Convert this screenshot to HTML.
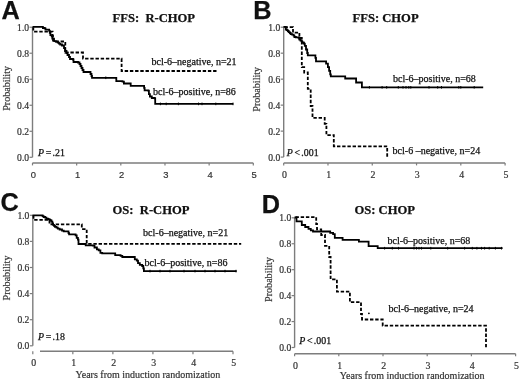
<!DOCTYPE html>
<html><head><meta charset="utf-8"><style>
html,body{margin:0;padding:0;background:#fff;width:520px;height:380px;overflow:hidden}
svg{display:block;filter:grayscale(1) blur(0.3px)}
text{fill:#111;stroke:#111;stroke-width:0.25px;white-space:pre}
text.t{fill:#333;stroke:#333;stroke-width:0.2px}
</style></head><body>
<svg width="520" height="380" viewBox="0 0 520 380">
<rect width="520" height="380" fill="#fff"/>
<text x="1.6" y="18.9" font-family="Liberation Sans" font-size="25.3" font-weight="bold" font-style="normal" text-anchor="start" >A</text>
<text x="112.5" y="21.9" font-family="Liberation Serif" font-size="12.6" font-weight="bold" font-style="normal" text-anchor="start" xml:space="preserve">FFS:  R-CHOP</text>
<line x1="32.5" y1="27.2" x2="32.5" y2="157.3" stroke="#7d7d7d" stroke-width="1.4"/>
<line x1="29.5" y1="157.30" x2="32.5" y2="157.30" stroke="#7d7d7d" stroke-width="1.2"/>
<text x="29.1" y="160.9" font-family="Liberation Serif" font-size="9.6" font-weight="normal" font-style="normal" text-anchor="end" class="t">0.0</text>
<line x1="29.5" y1="131.28" x2="32.5" y2="131.28" stroke="#7d7d7d" stroke-width="1.2"/>
<text x="29.1" y="134.88" font-family="Liberation Serif" font-size="9.6" font-weight="normal" font-style="normal" text-anchor="end" class="t">0.2</text>
<line x1="29.5" y1="105.26" x2="32.5" y2="105.26" stroke="#7d7d7d" stroke-width="1.2"/>
<text x="29.1" y="108.86" font-family="Liberation Serif" font-size="9.6" font-weight="normal" font-style="normal" text-anchor="end" class="t">0.4</text>
<line x1="29.5" y1="79.24" x2="32.5" y2="79.24" stroke="#7d7d7d" stroke-width="1.2"/>
<text x="29.1" y="82.84" font-family="Liberation Serif" font-size="9.6" font-weight="normal" font-style="normal" text-anchor="end" class="t">0.6</text>
<line x1="29.5" y1="53.22" x2="32.5" y2="53.22" stroke="#7d7d7d" stroke-width="1.2"/>
<text x="29.1" y="56.82" font-family="Liberation Serif" font-size="9.6" font-weight="normal" font-style="normal" text-anchor="end" class="t">0.8</text>
<line x1="29.5" y1="27.20" x2="32.5" y2="27.20" stroke="#7d7d7d" stroke-width="1.2"/>
<text x="29.1" y="30.8" font-family="Liberation Serif" font-size="9.6" font-weight="normal" font-style="normal" text-anchor="end" class="t">1.0</text>
<line x1="32.5" y1="162.9" x2="253.30" y2="162.9" stroke="#7d7d7d" stroke-width="1.5"/>
<line x1="32.50" y1="162.9" x2="32.50" y2="165.4" stroke="#7d7d7d" stroke-width="1.2"/>
<text x="33.4" y="178.4" font-family="Liberation Sans" font-size="9.4" font-weight="normal" font-style="normal" text-anchor="middle" class="t">0</text>
<line x1="76.66" y1="162.9" x2="76.66" y2="165.4" stroke="#7d7d7d" stroke-width="1.2"/>
<text x="77.56" y="178.4" font-family="Liberation Sans" font-size="9.4" font-weight="normal" font-style="normal" text-anchor="middle" class="t">1</text>
<line x1="120.82" y1="162.9" x2="120.82" y2="165.4" stroke="#7d7d7d" stroke-width="1.2"/>
<text x="121.72" y="178.4" font-family="Liberation Sans" font-size="9.4" font-weight="normal" font-style="normal" text-anchor="middle" class="t">2</text>
<line x1="164.98" y1="162.9" x2="164.98" y2="165.4" stroke="#7d7d7d" stroke-width="1.2"/>
<text x="165.88" y="178.4" font-family="Liberation Sans" font-size="9.4" font-weight="normal" font-style="normal" text-anchor="middle" class="t">3</text>
<line x1="209.14" y1="162.9" x2="209.14" y2="165.4" stroke="#7d7d7d" stroke-width="1.2"/>
<text x="210.04" y="178.4" font-family="Liberation Sans" font-size="9.4" font-weight="normal" font-style="normal" text-anchor="middle" class="t">4</text>
<line x1="253.30" y1="162.9" x2="253.30" y2="165.4" stroke="#7d7d7d" stroke-width="1.2"/>
<text x="254.2" y="178.4" font-family="Liberation Sans" font-size="9.4" font-weight="normal" font-style="normal" text-anchor="middle" class="t">5</text>
<text transform="translate(10.2,88.4) rotate(-90)" font-family="Liberation Serif" font-size="10.1" text-anchor="middle" class="t">Probability</text>
<path d="M32.5,26.9 H42.5 V26.9 H42.9 V28.0 H44.7 V28.4 H45.5 V29.7 H48.2 V29.7 H49.2 V30.9 H49.8 V32.8 H50.4 V35.1 H51.7 V36.3 H52.3 V38.5 H53.0 V40.7 H54.2 V41.1 H55.8 V41.7 H57.7 V42.6 H59.0 V43.6 H60.2 V44.5 H62.0 V45.5 H64.0 V48.0 H65.0 V51.0 H66.5 V53.0 H67.5 V55.0 H69.0 V57.0 H70.0 V59.0 H73.0 V59.5 H73.5 V62.0 H78.0 V62.5 H79.5 V64.0 H80.5 V66.0 H81.5 V68.0 H82.5 V70.0 H83.5 V72.0 H89.5 V72.0 H90.5 V74.0 H91.5 V76.0 H92.0 V77.8 H115.8 V77.8 H116.3 V81.1 H122.5 V81.6 H123.9 V83.5 H130.2 V83.5 H130.7 V85.9 H143.2 V85.9 H144.1 V87.9 H144.6 V90.3 H148.5 V90.8 H148.9 V94.1 H149.9 V96.5 H151.8 V98.0 H154.7 V98.4 H155.2 V103.9 H233.2 V103.9" fill="none" stroke="#000" stroke-width="1.8" stroke-linejoin="miter"/>
<line x1="105.8" y1="76.5" x2="105.8" y2="79.1" stroke="#000" stroke-width="1"/>
<line x1="160.4" y1="102.60000000000001" x2="160.4" y2="105.2" stroke="#000" stroke-width="1"/>
<line x1="166.2" y1="102.60000000000001" x2="166.2" y2="105.2" stroke="#000" stroke-width="1"/>
<line x1="178.4" y1="102.60000000000001" x2="178.4" y2="105.2" stroke="#000" stroke-width="1"/>
<line x1="198.5" y1="102.60000000000001" x2="198.5" y2="105.2" stroke="#000" stroke-width="1"/>
<line x1="202" y1="102.60000000000001" x2="202" y2="105.2" stroke="#000" stroke-width="1"/>
<line x1="215.8" y1="102.60000000000001" x2="215.8" y2="105.2" stroke="#000" stroke-width="1"/>
<line x1="233" y1="102.60000000000001" x2="233" y2="105.2" stroke="#000" stroke-width="1"/>
<path d="M33.3,27.2 V31.6 H52.6 V36.0 H54.0 V41.5 H65.3 V52.5 H83.0 V58.6 H121.6 V71.0 H218.3" fill="none" stroke="#000" stroke-width="1.8" stroke-dasharray="3.4 1.8"/>
<text x="151.5" y="64.6" font-family="Liberation Serif" font-size="10" font-weight="normal" font-style="normal" text-anchor="start" >bcl-6–negative, n=21</text>
<text x="153" y="94.8" font-family="Liberation Serif" font-size="10" font-weight="normal" font-style="normal" text-anchor="start" >bcl-6–positive, n=86</text>
<text y="155.7" font-family="Liberation Serif" font-size="9.9"><tspan x="38" font-style="italic">P</tspan><tspan x="45.8">=</tspan><tspan x="52.5">.21</tspan></text>
<text x="253.2" y="19.2" font-family="Liberation Sans" font-size="25.3" font-weight="bold" font-style="normal" text-anchor="start" >B</text>
<text x="352.5" y="21.9" font-family="Liberation Serif" font-size="12.6" font-weight="bold" font-style="normal" text-anchor="start" xml:space="preserve">FFS: CHOP</text>
<line x1="283.7" y1="27.2" x2="283.7" y2="157.1" stroke="#7d7d7d" stroke-width="1.4"/>
<line x1="280.7" y1="157.10" x2="283.7" y2="157.10" stroke="#7d7d7d" stroke-width="1.2"/>
<text x="280.3" y="160.7" font-family="Liberation Serif" font-size="9.6" font-weight="normal" font-style="normal" text-anchor="end" class="t">0.0</text>
<line x1="280.7" y1="131.12" x2="283.7" y2="131.12" stroke="#7d7d7d" stroke-width="1.2"/>
<text x="280.3" y="134.72" font-family="Liberation Serif" font-size="9.6" font-weight="normal" font-style="normal" text-anchor="end" class="t">0.2</text>
<line x1="280.7" y1="105.14" x2="283.7" y2="105.14" stroke="#7d7d7d" stroke-width="1.2"/>
<text x="280.3" y="108.74" font-family="Liberation Serif" font-size="9.6" font-weight="normal" font-style="normal" text-anchor="end" class="t">0.4</text>
<line x1="280.7" y1="79.16" x2="283.7" y2="79.16" stroke="#7d7d7d" stroke-width="1.2"/>
<text x="280.3" y="82.76" font-family="Liberation Serif" font-size="9.6" font-weight="normal" font-style="normal" text-anchor="end" class="t">0.6</text>
<line x1="280.7" y1="53.18" x2="283.7" y2="53.18" stroke="#7d7d7d" stroke-width="1.2"/>
<text x="280.3" y="56.78" font-family="Liberation Serif" font-size="9.6" font-weight="normal" font-style="normal" text-anchor="end" class="t">0.8</text>
<line x1="280.7" y1="27.20" x2="283.7" y2="27.20" stroke="#7d7d7d" stroke-width="1.2"/>
<text x="280.3" y="30.8" font-family="Liberation Serif" font-size="9.6" font-weight="normal" font-style="normal" text-anchor="end" class="t">1.0</text>
<line x1="283.7" y1="162.9" x2="505.10" y2="162.9" stroke="#7d7d7d" stroke-width="1.5"/>
<line x1="283.70" y1="162.9" x2="283.70" y2="165.4" stroke="#7d7d7d" stroke-width="1.2"/>
<text x="284.5" y="177.7" font-family="Liberation Serif" font-size="9.9" font-weight="normal" font-style="normal" text-anchor="middle" class="t">0</text>
<line x1="327.98" y1="162.9" x2="327.98" y2="165.4" stroke="#7d7d7d" stroke-width="1.2"/>
<text x="328.78" y="177.7" font-family="Liberation Serif" font-size="9.9" font-weight="normal" font-style="normal" text-anchor="middle" class="t">1</text>
<line x1="372.26" y1="162.9" x2="372.26" y2="165.4" stroke="#7d7d7d" stroke-width="1.2"/>
<text x="373.06" y="177.7" font-family="Liberation Serif" font-size="9.9" font-weight="normal" font-style="normal" text-anchor="middle" class="t">2</text>
<line x1="416.54" y1="162.9" x2="416.54" y2="165.4" stroke="#7d7d7d" stroke-width="1.2"/>
<text x="417.34" y="177.7" font-family="Liberation Serif" font-size="9.9" font-weight="normal" font-style="normal" text-anchor="middle" class="t">3</text>
<line x1="460.82" y1="162.9" x2="460.82" y2="165.4" stroke="#7d7d7d" stroke-width="1.2"/>
<text x="461.62" y="177.7" font-family="Liberation Serif" font-size="9.9" font-weight="normal" font-style="normal" text-anchor="middle" class="t">4</text>
<line x1="505.10" y1="162.9" x2="505.10" y2="165.4" stroke="#7d7d7d" stroke-width="1.2"/>
<text x="505.9" y="177.7" font-family="Liberation Serif" font-size="9.9" font-weight="normal" font-style="normal" text-anchor="middle" class="t">5</text>
<text transform="translate(260,89.3) rotate(-90)" font-family="Liberation Serif" font-size="10.1" text-anchor="middle" class="t">Probability</text>
<path d="M283.4,26.9 H285.8 V26.9 H285.8 V29.5 H286.9 V30.1 H287.8 V31.0 H288.7 V32.1 H289.8 V33.0 H290.7 V34.1 H292.1 V34.7 H293.6 V35.6 H294.4 V37.0 H295.9 V37.3 H298.2 V37.6 H299.1 V38.5 H299.4 V39.6 H300.5 V40.5 H301.7 V41.4 H302.3 V42.5 H303.7 V43.1 H304.3 V44.0 H304.8 V45.9 H306.0 V49.5 H307.2 V53.0 H307.8 V55.4 H314.3 V55.4 H315.4 V57.8 H316.0 V61.3 H325.5 V61.3 H326.1 V63.7 H327.9 V67.2 H329.1 V70.8 H330.2 V74.3 H330.8 V76.3 H344.6 V76.3 H345.2 V78.5 H355.6 V78.5 H356.1 V82.5 H361.3 V82.5 H361.9 V87.3 H483.2 V87.3" fill="none" stroke="#000" stroke-width="1.8" stroke-linejoin="miter"/>
<line x1="369.4" y1="86.0" x2="369.4" y2="88.6" stroke="#000" stroke-width="1"/>
<line x1="382.1" y1="86.0" x2="382.1" y2="88.6" stroke="#000" stroke-width="1"/>
<line x1="386.7" y1="86.0" x2="386.7" y2="88.6" stroke="#000" stroke-width="1"/>
<line x1="398.3" y1="86.0" x2="398.3" y2="88.6" stroke="#000" stroke-width="1"/>
<line x1="403" y1="86.0" x2="403" y2="88.6" stroke="#000" stroke-width="1"/>
<line x1="406" y1="86.0" x2="406" y2="88.6" stroke="#000" stroke-width="1"/>
<line x1="408.8" y1="86.0" x2="408.8" y2="88.6" stroke="#000" stroke-width="1"/>
<line x1="410.8" y1="86.0" x2="410.8" y2="88.6" stroke="#000" stroke-width="1"/>
<line x1="429" y1="86.0" x2="429" y2="88.6" stroke="#000" stroke-width="1"/>
<line x1="437.7" y1="86.0" x2="437.7" y2="88.6" stroke="#000" stroke-width="1"/>
<line x1="441.5" y1="86.0" x2="441.5" y2="88.6" stroke="#000" stroke-width="1"/>
<line x1="458.8" y1="86.0" x2="458.8" y2="88.6" stroke="#000" stroke-width="1"/>
<line x1="460.8" y1="86.0" x2="460.8" y2="88.6" stroke="#000" stroke-width="1"/>
<line x1="474.2" y1="86.0" x2="474.2" y2="88.6" stroke="#000" stroke-width="1"/>
<path d="M284.5,27.2 H293.0 V32.6 H299.4 V38.0 H301.8 V67.2 H304.2 V72.5 H307.8 V88.9 H310.7 V106.0 H312.5 V117.9 H324.7 V123.8 H326.4 V135.1 H333.8 V146.3 H387.2 V156.8" fill="none" stroke="#000" stroke-width="1.8" stroke-dasharray="3.4 1.8"/>
<text x="393" y="82.1" font-family="Liberation Serif" font-size="10" font-weight="normal" font-style="normal" text-anchor="start" >bcl-6–positive, n=68</text>
<text x="392.6" y="154.2" font-family="Liberation Serif" font-size="10" font-weight="normal" font-style="normal" text-anchor="start" xml:space="preserve">bcl-6 –negative, n=24</text>
<text y="155.7" font-family="Liberation Serif" font-size="9.9"><tspan x="286.8" font-style="italic">P</tspan><tspan x="294.6">&lt;</tspan><tspan x="301.3">.001</tspan></text>
<text x="0.5" y="211.0" font-family="Liberation Sans" font-size="25.3" font-weight="bold" font-style="normal" text-anchor="start" >C</text>
<text x="112.5" y="214.2" font-family="Liberation Serif" font-size="12.6" font-weight="bold" font-style="normal" text-anchor="start" xml:space="preserve">OS:  R-CHOP</text>
<line x1="32.8" y1="215.3" x2="32.8" y2="345.8" stroke="#7d7d7d" stroke-width="1.4"/>
<line x1="29.799999999999997" y1="345.80" x2="32.8" y2="345.80" stroke="#7d7d7d" stroke-width="1.2"/>
<text x="29.4" y="349.4" font-family="Liberation Serif" font-size="9.6" font-weight="normal" font-style="normal" text-anchor="end" class="t">0.0</text>
<line x1="29.799999999999997" y1="319.70" x2="32.8" y2="319.70" stroke="#7d7d7d" stroke-width="1.2"/>
<text x="29.4" y="323.3" font-family="Liberation Serif" font-size="9.6" font-weight="normal" font-style="normal" text-anchor="end" class="t">0.2</text>
<line x1="29.799999999999997" y1="293.60" x2="32.8" y2="293.60" stroke="#7d7d7d" stroke-width="1.2"/>
<text x="29.4" y="297.2" font-family="Liberation Serif" font-size="9.6" font-weight="normal" font-style="normal" text-anchor="end" class="t">0.4</text>
<line x1="29.799999999999997" y1="267.50" x2="32.8" y2="267.50" stroke="#7d7d7d" stroke-width="1.2"/>
<text x="29.4" y="271.1" font-family="Liberation Serif" font-size="9.6" font-weight="normal" font-style="normal" text-anchor="end" class="t">0.6</text>
<line x1="29.799999999999997" y1="241.40" x2="32.8" y2="241.40" stroke="#7d7d7d" stroke-width="1.2"/>
<text x="29.4" y="245.0" font-family="Liberation Serif" font-size="9.6" font-weight="normal" font-style="normal" text-anchor="end" class="t">0.8</text>
<line x1="29.799999999999997" y1="215.30" x2="32.8" y2="215.30" stroke="#7d7d7d" stroke-width="1.2"/>
<text x="29.4" y="218.9" font-family="Liberation Serif" font-size="9.6" font-weight="normal" font-style="normal" text-anchor="end" class="t">1.0</text>
<line x1="40" y1="351.3" x2="233.00" y2="351.3" stroke="#7d7d7d" stroke-width="1.5"/>
<line x1="32.80" y1="351.3" x2="32.80" y2="354.3" stroke="#7d7d7d" stroke-width="1.2"/>
<text x="33.6" y="366.2" font-family="Liberation Serif" font-size="9.9" font-weight="normal" font-style="normal" text-anchor="middle" class="t">0</text>
<line x1="72.84" y1="351.3" x2="72.84" y2="354.3" stroke="#7d7d7d" stroke-width="1.2"/>
<text x="73.64" y="366.2" font-family="Liberation Serif" font-size="9.9" font-weight="normal" font-style="normal" text-anchor="middle" class="t">1</text>
<line x1="112.88" y1="351.3" x2="112.88" y2="354.3" stroke="#7d7d7d" stroke-width="1.2"/>
<text x="113.68" y="366.2" font-family="Liberation Serif" font-size="9.9" font-weight="normal" font-style="normal" text-anchor="middle" class="t">2</text>
<line x1="152.92" y1="351.3" x2="152.92" y2="354.3" stroke="#7d7d7d" stroke-width="1.2"/>
<text x="153.72" y="366.2" font-family="Liberation Serif" font-size="9.9" font-weight="normal" font-style="normal" text-anchor="middle" class="t">3</text>
<line x1="192.96" y1="351.3" x2="192.96" y2="354.3" stroke="#7d7d7d" stroke-width="1.2"/>
<text x="193.76" y="366.2" font-family="Liberation Serif" font-size="9.9" font-weight="normal" font-style="normal" text-anchor="middle" class="t">4</text>
<line x1="233.00" y1="351.3" x2="233.00" y2="354.3" stroke="#7d7d7d" stroke-width="1.2"/>
<text x="233.8" y="366.2" font-family="Liberation Serif" font-size="9.9" font-weight="normal" font-style="normal" text-anchor="middle" class="t">5</text>
<text transform="translate(10.0,278) rotate(-90)" font-family="Liberation Serif" font-size="10.1" text-anchor="middle" class="t">Probability</text>
<path d="M32.5,215.3 H41.4 V215.3 H42.6 V216.1 H43.6 V217.0 H45.2 V217.6 H46.4 V218.6 H48.0 V219.2 H49.6 V219.8 H50.5 V220.5 H51.5 V221.7 H52.4 V223.3 H53.1 V224.9 H54.0 V225.8 H55.0 V226.8 H56.5 V227.7 H57.8 V228.7 H59.6 V229.5 H62.0 V230.7 H63.7 V231.3 H67.9 V231.3 H68.5 V233.1 H69.1 V234.3 H75.0 V234.3 H75.6 V235.4 H76.7 V237.8 H77.9 V239.6 H78.5 V244.0 H84.0 V244.0 H85.7 V245.3 H92.8 V245.7 H94.5 V247.5 H96.9 V249.3 H98.7 V250.4 H100.4 V252.8 H102.2 V253.4 H114.1 V253.4 H115.2 V255.2 H120.6 V255.8 H122.3 V257.0 H134.2 V257.0 H134.8 V259.3 H136.8 V260.7 H138.0 V263.1 H139.8 V264.9 H142.2 V266.0 H143.3 V268.4 H143.9 V271.1 H236.6 V271.1" fill="none" stroke="#000" stroke-width="1.8" stroke-linejoin="miter"/>
<line x1="150" y1="269.8" x2="150" y2="272.40000000000003" stroke="#000" stroke-width="1"/>
<line x1="160" y1="269.8" x2="160" y2="272.40000000000003" stroke="#000" stroke-width="1"/>
<line x1="170" y1="269.8" x2="170" y2="272.40000000000003" stroke="#000" stroke-width="1"/>
<line x1="184" y1="269.8" x2="184" y2="272.40000000000003" stroke="#000" stroke-width="1"/>
<line x1="195" y1="269.8" x2="195" y2="272.40000000000003" stroke="#000" stroke-width="1"/>
<line x1="205" y1="269.8" x2="205" y2="272.40000000000003" stroke="#000" stroke-width="1"/>
<line x1="215" y1="269.8" x2="215" y2="272.40000000000003" stroke="#000" stroke-width="1"/>
<line x1="225" y1="269.8" x2="225" y2="272.40000000000003" stroke="#000" stroke-width="1"/>
<line x1="236" y1="269.8" x2="236" y2="272.40000000000003" stroke="#000" stroke-width="1"/>
<path d="M33.5,215.3 V219.8 H49.5 V224.3 H81.8 V229.1 H86.7 V243.8 H241.2" fill="none" stroke="#000" stroke-width="1.8" stroke-dasharray="3.4 1.8"/>
<text x="143.1" y="236.1" font-family="Liberation Serif" font-size="10" font-weight="normal" font-style="normal" text-anchor="start" >bcl-6–negative, n=21</text>
<text x="144.6" y="266.1" font-family="Liberation Serif" font-size="10" font-weight="normal" font-style="normal" text-anchor="start" >bcl-6–positive, n=86</text>
<text y="339.8" font-family="Liberation Serif" font-size="9.9"><tspan x="38" font-style="italic">P</tspan><tspan x="45.8">=</tspan><tspan x="52.5">.18</tspan></text>
<text x="75.5" y="377.5" font-family="Liberation Serif" font-size="10" font-weight="normal" font-style="normal" text-anchor="start" class="t">Years from induction randomization</text>
<text x="261.8" y="212.9" font-family="Liberation Sans" font-size="25.3" font-weight="bold" font-style="normal" text-anchor="start" >D</text>
<text x="354.4" y="214.2" font-family="Liberation Serif" font-size="12.6" font-weight="bold" font-style="normal" text-anchor="start" xml:space="preserve">OS: CHOP</text>
<line x1="294.6" y1="217.8" x2="294.6" y2="347.5" stroke="#7d7d7d" stroke-width="1.4"/>
<line x1="291.6" y1="347.50" x2="294.6" y2="347.50" stroke="#7d7d7d" stroke-width="1.2"/>
<text x="291.20000000000005" y="351.1" font-family="Liberation Serif" font-size="9.6" font-weight="normal" font-style="normal" text-anchor="end" class="t">0.0</text>
<line x1="291.6" y1="321.56" x2="294.6" y2="321.56" stroke="#7d7d7d" stroke-width="1.2"/>
<text x="291.20000000000005" y="325.16" font-family="Liberation Serif" font-size="9.6" font-weight="normal" font-style="normal" text-anchor="end" class="t">0.2</text>
<line x1="291.6" y1="295.62" x2="294.6" y2="295.62" stroke="#7d7d7d" stroke-width="1.2"/>
<text x="291.20000000000005" y="299.22" font-family="Liberation Serif" font-size="9.6" font-weight="normal" font-style="normal" text-anchor="end" class="t">0.4</text>
<line x1="291.6" y1="269.68" x2="294.6" y2="269.68" stroke="#7d7d7d" stroke-width="1.2"/>
<text x="291.20000000000005" y="273.28" font-family="Liberation Serif" font-size="9.6" font-weight="normal" font-style="normal" text-anchor="end" class="t">0.6</text>
<line x1="291.6" y1="243.74" x2="294.6" y2="243.74" stroke="#7d7d7d" stroke-width="1.2"/>
<text x="291.20000000000005" y="247.34" font-family="Liberation Serif" font-size="9.6" font-weight="normal" font-style="normal" text-anchor="end" class="t">0.8</text>
<line x1="291.6" y1="217.80" x2="294.6" y2="217.80" stroke="#7d7d7d" stroke-width="1.2"/>
<text x="291.20000000000005" y="221.4" font-family="Liberation Serif" font-size="9.6" font-weight="normal" font-style="normal" text-anchor="end" class="t">1.0</text>
<line x1="294.6" y1="353.7" x2="515.60" y2="353.7" stroke="#7d7d7d" stroke-width="1.5"/>
<line x1="294.60" y1="353.7" x2="294.60" y2="356.2" stroke="#7d7d7d" stroke-width="1.2"/>
<text x="295.4" y="368.6" font-family="Liberation Serif" font-size="9.9" font-weight="normal" font-style="normal" text-anchor="middle" class="t">0</text>
<line x1="338.80" y1="353.7" x2="338.80" y2="356.2" stroke="#7d7d7d" stroke-width="1.2"/>
<text x="339.6" y="368.6" font-family="Liberation Serif" font-size="9.9" font-weight="normal" font-style="normal" text-anchor="middle" class="t">1</text>
<line x1="383.00" y1="353.7" x2="383.00" y2="356.2" stroke="#7d7d7d" stroke-width="1.2"/>
<text x="383.8" y="368.6" font-family="Liberation Serif" font-size="9.9" font-weight="normal" font-style="normal" text-anchor="middle" class="t">2</text>
<line x1="427.20" y1="353.7" x2="427.20" y2="356.2" stroke="#7d7d7d" stroke-width="1.2"/>
<text x="428.0" y="368.6" font-family="Liberation Serif" font-size="9.9" font-weight="normal" font-style="normal" text-anchor="middle" class="t">3</text>
<line x1="471.40" y1="353.7" x2="471.40" y2="356.2" stroke="#7d7d7d" stroke-width="1.2"/>
<text x="472.2" y="368.6" font-family="Liberation Serif" font-size="9.9" font-weight="normal" font-style="normal" text-anchor="middle" class="t">4</text>
<line x1="515.60" y1="353.7" x2="515.60" y2="356.2" stroke="#7d7d7d" stroke-width="1.2"/>
<text x="516.4" y="368.6" font-family="Liberation Serif" font-size="9.9" font-weight="normal" font-style="normal" text-anchor="middle" class="t">5</text>
<text transform="translate(271.8,279.5) rotate(-90)" font-family="Liberation Serif" font-size="10.1" text-anchor="middle" class="t">Probability</text>
<path d="M294.5,217.5 H296.5 V221.3 H301.8 V225.0 H305.2 V227.0 H308.5 V228.8 H310.8 V230.3 H313.0 V231.5 H329.0 V231.5 H330.2 V232.9 H333.1 V234.1 H334.8 V237.8 H342.6 V239.9 H358.9 V241.6 H368.6 V246.1 H377.7 V248.2 H502.6 V248.2" fill="none" stroke="#000" stroke-width="1.8" stroke-linejoin="miter"/>
<line x1="384.6" y1="246.89999999999998" x2="384.6" y2="249.5" stroke="#000" stroke-width="1"/>
<line x1="392.3" y1="246.89999999999998" x2="392.3" y2="249.5" stroke="#000" stroke-width="1"/>
<line x1="398.5" y1="246.89999999999998" x2="398.5" y2="249.5" stroke="#000" stroke-width="1"/>
<line x1="414" y1="246.89999999999998" x2="414" y2="249.5" stroke="#000" stroke-width="1"/>
<line x1="416.5" y1="246.89999999999998" x2="416.5" y2="249.5" stroke="#000" stroke-width="1"/>
<line x1="419" y1="246.89999999999998" x2="419" y2="249.5" stroke="#000" stroke-width="1"/>
<line x1="421.5" y1="246.89999999999998" x2="421.5" y2="249.5" stroke="#000" stroke-width="1"/>
<line x1="430.8" y1="246.89999999999998" x2="430.8" y2="249.5" stroke="#000" stroke-width="1"/>
<line x1="447.7" y1="246.89999999999998" x2="447.7" y2="249.5" stroke="#000" stroke-width="1"/>
<line x1="464.6" y1="246.89999999999998" x2="464.6" y2="249.5" stroke="#000" stroke-width="1"/>
<line x1="472.3" y1="246.89999999999998" x2="472.3" y2="249.5" stroke="#000" stroke-width="1"/>
<line x1="476.9" y1="246.89999999999998" x2="476.9" y2="249.5" stroke="#000" stroke-width="1"/>
<line x1="481.5" y1="246.89999999999998" x2="481.5" y2="249.5" stroke="#000" stroke-width="1"/>
<line x1="484.6" y1="246.89999999999998" x2="484.6" y2="249.5" stroke="#000" stroke-width="1"/>
<line x1="489.2" y1="246.89999999999998" x2="489.2" y2="249.5" stroke="#000" stroke-width="1"/>
<line x1="495.4" y1="246.89999999999998" x2="495.4" y2="249.5" stroke="#000" stroke-width="1"/>
<line x1="501.5" y1="246.89999999999998" x2="501.5" y2="249.5" stroke="#000" stroke-width="1"/>
<path d="M295.5,217.2 H316.2 V224.0 H317.0 V229.3 H321.2 V235.0 H325.0 V245.9 H329.2 V257.0 H330.6 V279.4 H336.9 V291.6 H349.9 V302.2 H361.0 V314.0 H362.0 V319.5 H382.7 V325.7 H486.0 V347.4" fill="none" stroke="#000" stroke-width="1.8" stroke-dasharray="3.4 1.8"/>
<circle cx="368.9" cy="313.3" r="0.9" fill="#000"/>
<text x="387.5" y="244.2" font-family="Liberation Serif" font-size="10" font-weight="normal" font-style="normal" text-anchor="start" >bcl-6–positive, n=68</text>
<text x="388.5" y="311.9" font-family="Liberation Serif" font-size="10" font-weight="normal" font-style="normal" text-anchor="start" >bcl-6–negative, n=24</text>
<text y="343.6" font-family="Liberation Serif" font-size="9.9"><tspan x="299.3" font-style="italic">P</tspan><tspan x="307.1">&lt;</tspan><tspan x="313.8">.001</tspan></text>
<text x="339.8" y="378.6" font-family="Liberation Serif" font-size="10" font-weight="normal" font-style="normal" text-anchor="start" class="t">Years from induction randomization</text>
</svg>
</body></html>
